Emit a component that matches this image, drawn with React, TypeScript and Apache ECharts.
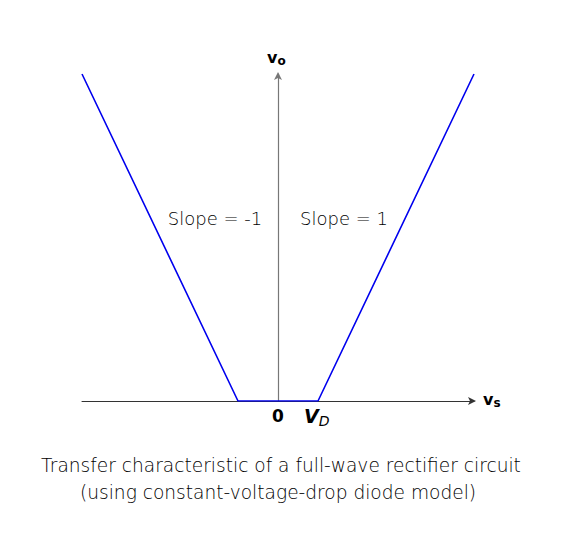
import React, { useEffect, useRef } from "react";
import * as echarts from "echarts";

const vsValues = [-4.9, -1, 1, 4.9];
const voValues = [3.9, 0, 0, 3.9];
const xRange = [-4.9, 4.9];
const yRange = [0, 3.9];
const slopeLabels = ["Slope = -1", "Slope = 1"];
const captionLines = [
  "Transfer characteristic of a full-wave rectifier circuit",
  "(using constant-voltage-drop diode model)",
];

const thinFont = "'DejaVu Sans', sans-serif";
const boldFont = "'DejaVu Sans', Verdana, sans-serif";

export default function App() {
  const ref = useRef<HTMLDivElement>(null);
  useEffect(() => {
    document.body.style.margin = "0";
    const chart = echarts.init(ref.current!, null, { renderer: "svg" });
    const textStyle = (text: string, size: number) => ({
      text,
      fontFamily: thinFont,
      fontWeight: 200,
      fontSize: size,
      fill: "#000",
      align: "center",
      verticalAlign: "middle",
    });
    chart.setOption({
      animation: false,
      backgroundColor: "#ffffff",
      grid: { left: 82, top: 74, width: 392, height: 327 },
      xAxis: {
        type: "value",
        min: xRange[0],
        max: xRange[1],
        axisLine: {
          show: true,
          onZero: true,
          symbol: ["none", "arrow"],
          symbolSize: [6, 8],
          symbolOffset: [0, 2],
          lineStyle: { color: "#333", width: 1 },
        },
        axisTick: { show: false },
        axisLabel: { show: false },
        splitLine: { show: false },
      },
      yAxis: {
        type: "value",
        min: yRange[0],
        max: yRange[1],
        axisLine: {
          show: true,
          onZero: true,
          symbol: ["none", "arrow"],
          symbolSize: [6, 8],
          symbolOffset: [0, 2],
          lineStyle: { color: "#777", width: 1.2 },
        },
        axisTick: { show: false },
        axisLabel: { show: false },
        splitLine: { show: false },
      },
      series: [
        {
          type: "line",
          data: vsValues.map((v, i) => [v, voValues[i]]),
          showSymbol: false,
          lineStyle: { color: "#0000ee", width: 1.6 },
          z: 1,
        },
      ],
      graphic: [
        {
          type: "text",
          x: 267,
          y: 47,
          style: {
            text: "{a|v}{b|o}",
            rich: {
              a: { fontFamily: boldFont, fontWeight: "bold", fontSize: 16, fill: "#000" },
              b: { fontFamily: boldFont, fontWeight: "bold", fontSize: 12, fill: "#000", padding: [8, 0, 0, 0] },
            },
          },
        },
        {
          type: "text",
          x: 483,
          y: 389,
          style: {
            text: "{a|v}{b|s}",
            rich: {
              a: { fontFamily: boldFont, fontWeight: "bold", fontSize: 16, fill: "#000" },
              b: { fontFamily: boldFont, fontWeight: "bold", fontSize: 12, fill: "#000", padding: [8, 0, 0, 0] },
            },
          },
        },
        {
          type: "text",
          x: 278,
          y: 416,
          style: {
            text: "0",
            fontFamily: boldFont,
            fontWeight: "bold",
            fontSize: 17,
            fill: "#000",
            align: "center",
            verticalAlign: "middle",
          },
        },
        {
          type: "text",
          x: 304,
          y: 404,
          style: {
            text: "{a|V}{b|D}",
            rich: {
              a: { fontFamily: boldFont, fontStyle: "italic", fontWeight: "bold", fontSize: 19, fill: "#000" },
              b: { fontFamily: boldFont, fontStyle: "italic", fontSize: 14, fill: "#000", padding: [10, 0, 0, 0] },
            },
          },
        },
        { type: "text", x: 215, y: 218, style: textStyle(slopeLabels[0], 18) },
        { type: "text", x: 344, y: 218, style: textStyle(slopeLabels[1], 18) },
        { type: "text", x: 281, y: 465, style: textStyle(captionLines[0], 18.6) },
        { type: "text", x: 278, y: 492, style: textStyle(captionLines[1], 18.6) },
      ],
    });
    return () => chart.dispose();
  }, []);
  return <div ref={ref} style={{ width: 563, height: 537 }} />;
}
